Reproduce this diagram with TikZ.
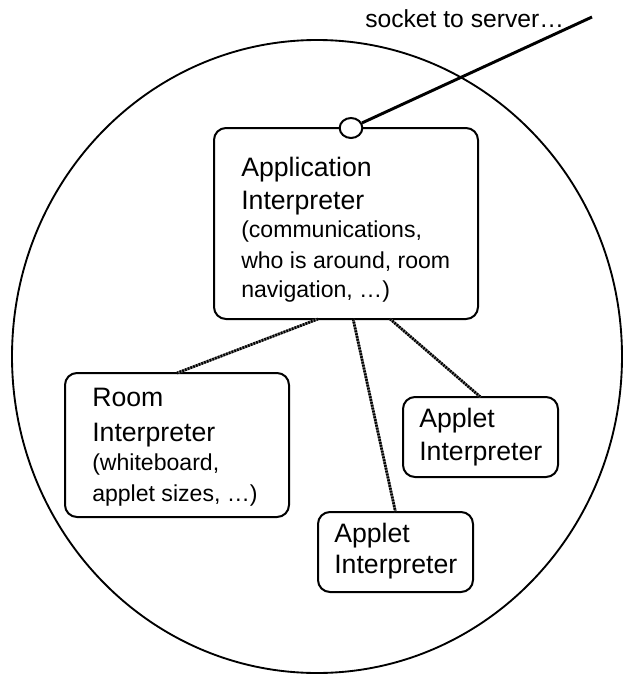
\documentclass[tikz,border=0pt]{standalone}
\usepackage{fontspec}
\setmainfont{Liberation Sans}
\usetikzlibrary{calc,shapes.geometric}
\begin{document}
\begin{tikzpicture}[x=0.75pt,y=-0.75pt,
  ibox/.style={draw=black,line width=1.5pt,rounded corners=9pt,fill=white,inner sep=0pt,outer sep=0pt},
  ttl/.style={anchor=base west,inner sep=0pt,font=\fontsize{20}{24}\selectfont},
  sml/.style={anchor=base west,inner sep=0pt,font=\fontsize{17.3}{20}\selectfont},
  conn/.style={line width=2pt,draw=black!55,postaction={draw=black,line width=2pt,dash pattern=on 1.2pt off 1pt}},
  sockline/.style={line width=2.2pt,draw=black}]
\useasboundingbox (0,0) rectangle (623,675);
% world ellipse
\draw[line width=1.4pt] (317,356.5) ellipse [x radius=305, y radius=316.5];
% boxes
\node[ibox,minimum width=198pt,minimum height=143.25pt] (app) at (346,223.5) {};
\node[ibox,minimum width=168pt,minimum height=108pt] (room) at (177,445) {};
\node[ibox,minimum width=116.25pt,minimum height=60pt] (apr) at (480.5,437) {};
\node[ibox,minimum width=116.25pt,minimum height=60pt] (apb) at (395.5,552) {};
% connectors
\draw[conn] ($(app.south west)!0.394!(app.south east)$) -- (room.north);
\draw[conn] ($(app.south west)!0.527!(app.south east)$) -- (apb.north);
\draw[conn] ($(app.south west)!0.667!(app.south east)$) -- (apr.north);
% socket
\coordinate (srv) at (592,17);
\node[draw=black,line width=1.5pt,fill=white,ellipse,minimum width=17pt,minimum height=15pt,inner sep=0pt] (sock) at (351,128) {};
\draw[sockline] (sock) -- (srv);
\node[anchor=base west,inner sep=0pt,font=\fontsize{18.5}{21}\selectfont] (sockt) at (365,27) {socket to server…};
% texts
\node[ttl] (a1) at (241,176.7) {Application};
\node[ttl] (a2) at (241,209) {Interpreter};
\node[sml] (a3) at (241,237.5) {(communications,};
\node[sml] (a4) at (241,268.5) {who is around, room};
\node[sml] (a5) at (241,297) {navigation, …)};
\node[ttl] (r1) at (92,406.7) {Room};
\node[ttl] (r2) at (92,441) {Interpreter};
\node[sml] (r3) at (92,470.5) {(whiteboard,};
\node[sml] (r4) at (92,501) {applet sizes, …)};
\node[ttl] (p1) at (419,427) {Applet};
\node[ttl] (p2) at (419,460) {Interpreter};
\node[ttl] (q1) at (334,542) {Applet};
\node[ttl] (q2) at (334,573) {Interpreter};
\end{tikzpicture}
\end{document}
